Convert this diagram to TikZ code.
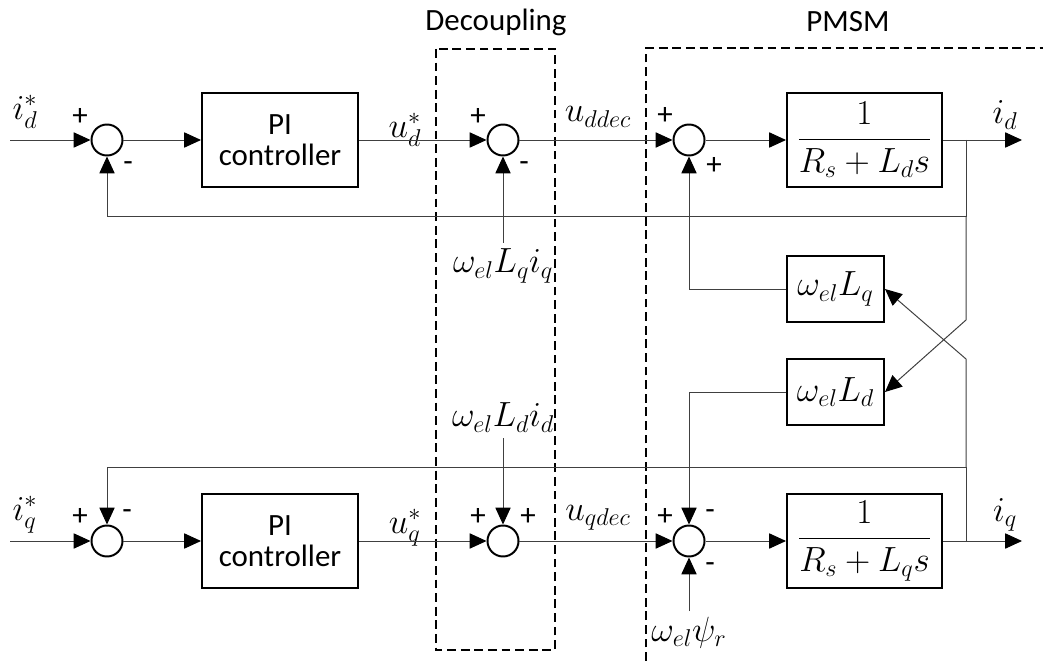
\documentclass[tikz,border=0pt]{standalone}
\usepackage{fontspec}
\setmainfont{Carlito}
\usepackage{amsmath}
\usetikzlibrary{arrows.meta,positioning}
\begin{document}
\begin{tikzpicture}[x=0.025cm,y=-0.025cm]
       \tikzstyle{block}=[draw, line width=1.4pt, minimum width=3.9cm, minimum height=2.35cm, align=center, font=\fontsize{22}{26}\selectfont]
       \tikzstyle{tfblock}=[block, minimum width=3.875cm, font=\fontsize{26}{30}\selectfont]
       \tikzstyle{gain}=[draw, line width=1.4pt, minimum width=2.425cm, minimum height=1.65cm, font=\fontsize{25}{29}\selectfont]
       \tikzstyle{sum}=[draw, circle, line width=1.4pt, minimum size=0.775cm, inner sep=0pt]
       \tikzstyle{sign}=[font=\fontsize{22}{26}\selectfont, inner sep=0pt]
       \tikzstyle{sig}=[font=\fontsize{25}{29}\selectfont, inner sep=1pt]
       \tikzstyle{title}=[font=\fontsize{22}{26}\selectfont]
       \tikzstyle{wire}=[draw, black!75, line width=0.7pt]
       \tikzstyle{arrow}=[wire, -{Triangle[length=0.42cm, width=0.38cm, color=black]}]
       \tikzstyle{dashframe}=[draw, line width=1.3pt, dash pattern=on 0.22cm off 0.12cm]
       \useasboundingbox (0,0) rectangle (1049,661);
       \draw[dashframe] (436,49) rectangle (555,650);
       \draw[dashframe] (646,661) -- (646,48) -- (1043,48);
       \node[title] (tdec) at (496,22) {Decoupling};
       \node[title] (tpmsm) at (848,22) {PMSM};
       % d axis
       \node[sum] (sd1) at (107,140) {};
       \node[block] (pid) at (280,140) {PI\\[-4pt]controller};
       \node[sum] (sd2) at (503,140) {};
       \node[sum] (sd3) at (689,140) {};
       \node[tfblock] (gd) at (864.5,140) {$\dfrac{1}{R_s+L_ds}$};
       \node[gain] (wlq) at (835.5,289) {$\omega_{el}L_q$};
       \node[gain] (wld) at (835.5,392) {$\omega_{el}L_d$};
       % q axis
       \node[sum] (sq1) at (107,541) {};
       \node[block] (piq) at (280,541) {PI\\[-4pt]controller};
       \node[sum] (sq2) at (503,541) {};
       \node[sum] (sq3) at (689,541) {};
       \node[tfblock] (gq) at (864.5,541) {$\dfrac{1}{R_s+L_qs}$};
       \coordinate (din) at (10,140);
       \coordinate (dout) at (1022,140);
       \coordinate (bd) at (966,140);
       \coordinate (bd1) at (966,216);
       \coordinate (bd2) at (966,320);
       \coordinate (qin) at (10,541);
       \coordinate (qout) at (1022,541);
       \coordinate (bq) at (966,541);
       \coordinate (bq1) at (966,467);
       \coordinate (bq2) at (966,359);
       \coordinate (cd) at (503,243);
       \coordinate (cq) at (503,438);
       \coordinate (cpsi) at (689,611);
       \node[sig] (lidr) at (25,112) {$i_d^*$};
       \node[sig] (lud) at (405,130) {$u_d^*$};
       \node[sig] (ludec) at (598,117) {$u_{ddec}$};
       \node[sig] (lid) at (1005,115) {$i_d$};
       \node[sig] (liqr) at (25,515) {$i_q^*$};
       \node[sig] (luq) at (405,528) {$u_q^*$};
       \node[sig] (luqdec) at (598,518) {$u_{qdec}$};
       \node[sig] (liq) at (1005,515) {$i_q$};
       \node[sig, below=3pt of cd] (lcd) {$\omega_{el}L_qi_q$};
       \node[sig, above=3pt of cq] (lcq) {$\omega_{el}L_di_d$};
       \node[sig, below=3pt of cpsi] (lpsi) {$\omega_{el}\psi_r$};
       \node[sign] (p1) at (80,117) {+};
       \node[sign] (m1) at (128,167) {-};
       \node[sign] (p2) at (478,117) {+};
       \node[sign] (m2) at (524,167) {-};
       \node[sign] (p3) at (665,116) {+};
       \node[sign] (p4) at (714,166) {+};
       \node[sign] (p5) at (80,517) {+};
       \node[sign] (m5) at (127,515) {-};
       \node[sign] (p6) at (478,517) {+};
       \node[sign] (p7) at (528,517) {+};
       \node[sign] (p8) at (665,517) {+};
       \node[sign] (m8) at (710,515) {-};
       \node[sign] (m9) at (710,568) {-};
       \draw[arrow] (din) -- (sd1);
       \draw[arrow] (sd1) -- (pid);
       \draw[arrow] (pid) -- (sd2);
       \draw[arrow] (sd2) -- (sd3);
       \draw[arrow] (sd3) -- (gd);
       \draw[arrow] (gd) -- (dout);
       \draw[arrow] (bd) -- (bd1) -| (sd1);
       \draw[arrow] (bd1) -- (bd2) -- (wld.east);
       \draw[arrow] (cd) -- (sd2);
       \draw[arrow] (wlq) -| (sd3);
       \draw[arrow] (qin) -- (sq1);
       \draw[arrow] (sq1) -- (piq);
       \draw[arrow] (piq) -- (sq2);
       \draw[arrow] (sq2) -- (sq3);
       \draw[arrow] (sq3) -- (gq);
       \draw[arrow] (gq) -- (qout);
       \draw[arrow] (bq) -- (bq1) -| (sq1);
       \draw[arrow] (bq1) -- (bq2) -- (wlq.east);
       \draw[arrow] (cq) -- (sq2);
       \draw[arrow] (wld) -| (sq3);
       \draw[arrow] (cpsi) -- (sq3);
      \end{tikzpicture}
\end{document}
